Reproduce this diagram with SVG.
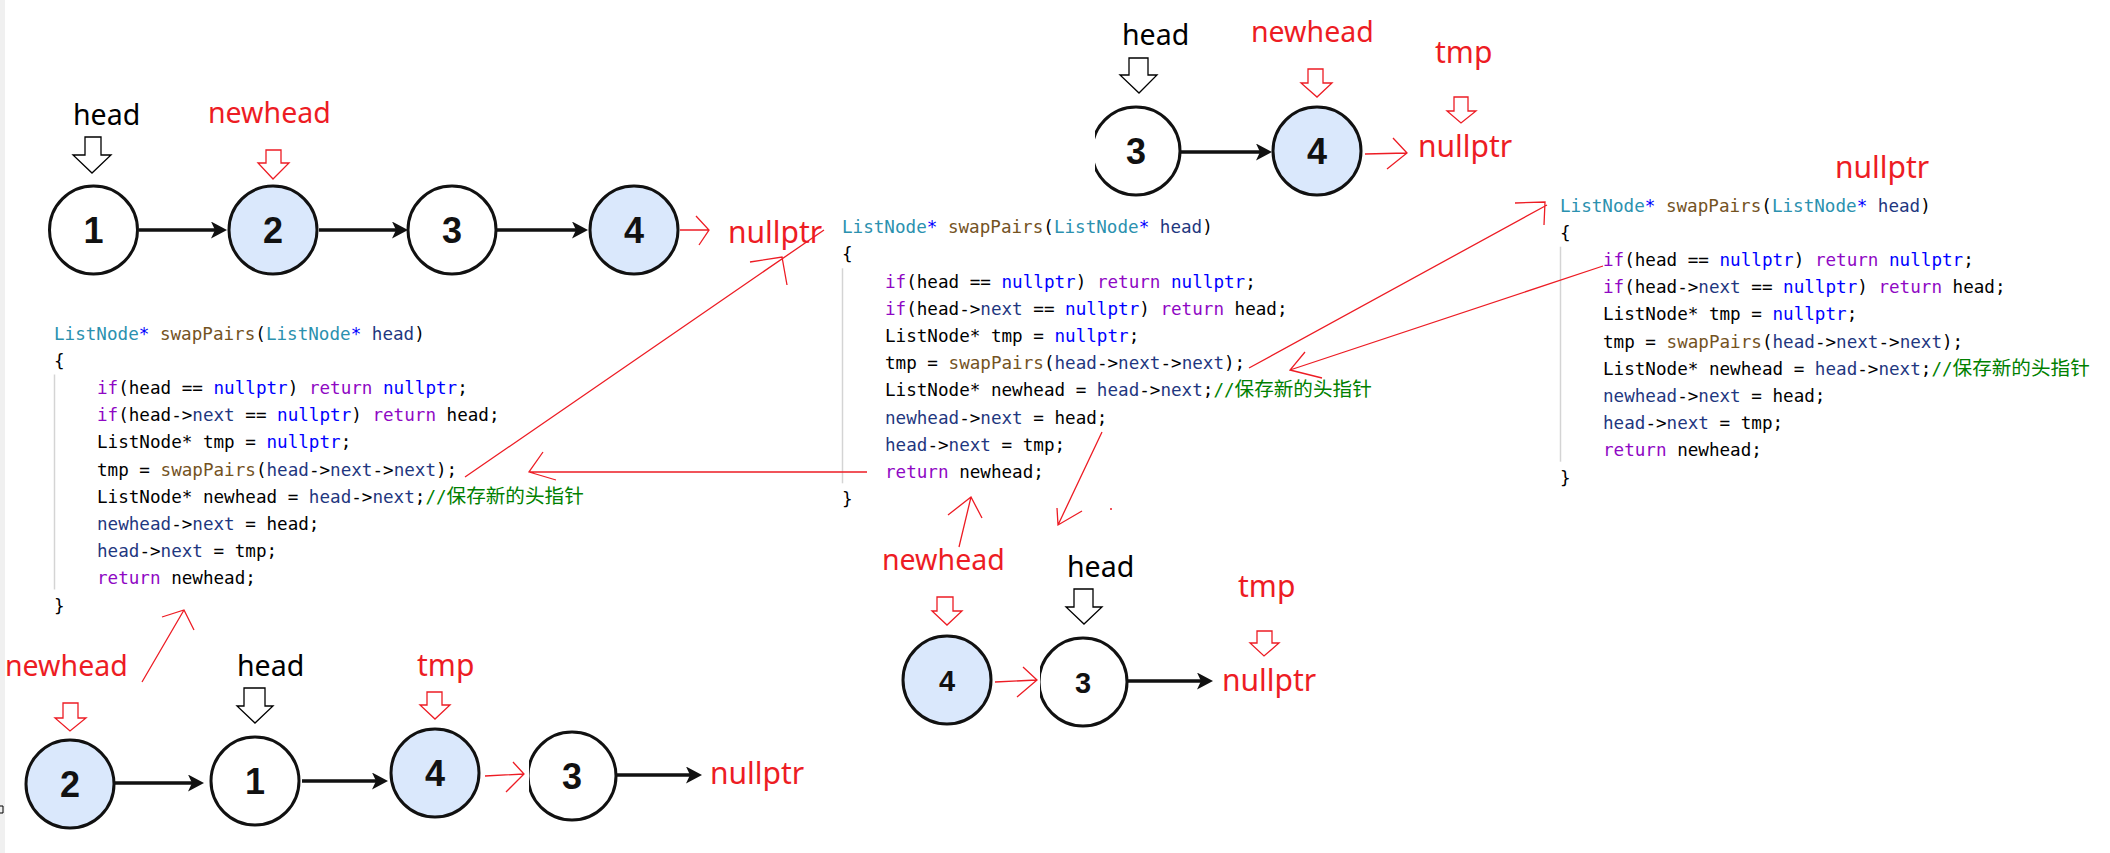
<svg xmlns="http://www.w3.org/2000/svg" width="2110" height="853" viewBox="0 0 2110 853">
<style>
.lb{font-family:"Noto Sans","Liberation Sans",sans-serif;font-size:28.5px;fill:#000}
.lb2{font-family:"Noto Sans","Liberation Sans",sans-serif;font-size:30px;fill:#ED1C24}
.red{fill:#ED1C24}
.num{font-family:"Liberation Sans",Arial,sans-serif;font-weight:bold;font-size:36px;fill:#111;text-anchor:middle}
.num2{font-size:29px}
.nw{fill:#fff;stroke:#111;stroke-width:3}
.nb{fill:#dae8fc;stroke:#111;stroke-width:3}
.hb{fill:#fff;stroke:#000;stroke-width:1.3}
.hr{fill:#fff;stroke:#ED1C24;stroke-width:1.3}
.rl{fill:none;stroke:#ED1C24;stroke-width:1.3}
.bk{fill:none;stroke:#111;stroke-width:3.5;marker-end:url(#ah)}
.code{font-family:"DejaVu Sans Mono","Liberation Mono",monospace;font-size:17.6px;fill:#000}
.ty{fill:#2B91AF}.kw{fill:#8F08C4}.bl{fill:#0000FF}.fn{fill:#74531F}.pr{fill:#1F377F}.cm{fill:#008000}
.cj{font-family:"Noto Sans CJK SC","Noto Sans CJK JP",sans-serif;font-size:19.6px}
.guide{stroke:#d4d4d4;stroke-width:1.5}
</style>
<defs>
<marker id="ah" viewBox="0 0 16 17" refX="8" refY="8.5" markerWidth="16" markerHeight="17" markerUnits="userSpaceOnUse" orient="auto">
<path d="M0,0 L16,8.5 L0,17 L4,8.5 z" fill="#111"/>
</marker>
<clipPath id="c1"><rect x="1095" y="90" width="120" height="120"/></clipPath>
<clipPath id="c2"><rect x="1040" y="620" width="120" height="120"/></clipPath>
<clipPath id="c3"><rect x="529" y="715" width="120" height="120"/></clipPath>
</defs>
<rect x="0" y="0" width="2110" height="853" fill="#fff"/>
<rect x="0" y="0" width="5" height="853" fill="#f0f0f0"/>
<path d="M0,806 L3,806 L3,813 L0,813" fill="none" stroke="#000" stroke-width="1"/>

<!-- Top-left list -->
<g id="tl-labels">
<text class="lb" x="73" y="125">head</text>
<text class="lb red" x="208" y="123">newhead</text>
<text class="lb2" x="728" y="243">nullptr</text>
<polygon class="hb" points="85,137 101,137 101,155 111,155 92,173 73,155 85,155"/>
<polygon class="hr" points="266,150 281,150 281,163 289,163 273,179 258,163 266,163"/>
</g>
<g id="tl-n1"><circle class="nw" cx="93.5" cy="230" r="44"/><text class="num" x="93.5" y="243">1</text></g>
<g id="tl-n2"><circle class="nb" cx="273" cy="230" r="44"/><text class="num" x="273" y="243">2</text></g>
<g id="tl-n3"><circle class="nw" cx="452" cy="230" r="44"/><text class="num" x="452" y="243">3</text></g>
<g id="tl-n4"><circle class="nb" cx="634" cy="230" r="44"/><text class="num" x="634" y="243">4</text></g>

<!-- Top-center list -->
<g id="tc-labels">
<text class="lb" x="1122" y="45">head</text>
<text class="lb red" x="1251" y="42">newhead</text>
<text class="lb2" x="1435" y="63">tmp</text>
<text class="lb2" x="1418" y="157">nullptr</text>
<polygon class="hb" points="1129,58 1148,58 1148,75 1157,75 1139,93 1120,75 1129,75"/>
<polygon class="hr" points="1308,69 1323,69 1323,83 1332,83 1317,97 1301,83 1308,83"/>
<polygon class="hr" points="1454,97 1468,97 1468,111 1476,111 1461,123 1447,111 1454,111"/>
</g>
<g id="tc-n3"><circle class="nw" cx="1136" cy="151" r="44" clip-path="url(#c1)"/><text class="num" x="1136" y="164">3</text></g>
<g id="tc-n4"><circle class="nb" cx="1317" cy="151" r="44"/><text class="num" x="1317" y="164">4</text></g>

<!-- Right nullptr label -->
<g id="r-label"><text class="lb2" x="1835" y="178">nullptr</text></g>

<!-- Bottom-center list -->
<g id="bc-labels">
<text class="lb red" x="882" y="570">newhead</text>
<text class="lb" x="1067" y="577">head</text>
<text class="lb2" x="1238" y="597">tmp</text>
<text class="lb2" x="1222" y="691">nullptr</text>
<polygon class="hr" points="937,597 953,597 953,611 962,611 947,625 932,611 937,611"/>
<polygon class="hb" points="1074,589 1093,589 1093,607 1102,607 1084,624 1066,607 1074,607"/>
<polygon class="hr" points="1257,631 1272,631 1272,643 1279,643 1264,656 1250,643 1257,643"/>
</g>
<g id="bc-n4"><circle class="nb" cx="947" cy="680" r="44"/><text class="num num2" x="947" y="691">4</text></g>
<g id="bc-n3"><circle class="nw" cx="1083" cy="682" r="44" clip-path="url(#c2)"/><text class="num num2" x="1083" y="693">3</text></g>

<!-- Bottom-left list -->
<g id="bl-labels">
<text class="lb red" x="5" y="676">newhead</text>
<text class="lb" x="237" y="676">head</text>
<text class="lb2" x="417" y="676">tmp</text>
<text class="lb2" x="710" y="784">nullptr</text>
<polygon class="hr" points="63,703 78,703 78,718 86,718 70,731 55,718 63,718"/>
<polygon class="hb" points="244,688 265,688 265,706 273,706 255,723 237,706 244,706"/>
<polygon class="hr" points="427,692 442,692 442,705 450,705 435,719 420,705 427,705"/>
</g>
<g id="bl-n2"><circle class="nb" cx="70" cy="784" r="44"/><text class="num" x="70" y="797">2</text></g>
<g id="bl-n1"><circle class="nw" cx="255" cy="781" r="44"/><text class="num" x="255" y="794">1</text></g>
<g id="bl-n4"><circle class="nb" cx="435" cy="773" r="44"/><text class="num" x="435" y="786">4</text></g>
<g id="bl-n3"><circle class="nw" cx="572" cy="776" r="44" clip-path="url(#c3)"/><text class="num" x="572" y="789">3</text></g>

<!-- Code blocks -->
<g id="code-left" class="code" transform="translate(54,339.5)">
<line class="guide" x1="0.5" y1="35" x2="0.5" y2="250"/>
<text xml:space="preserve" x="0" y="0"><tspan class="ty">ListNode</tspan><tspan class="bl">*</tspan> <tspan class="fn">swapPairs</tspan>(<tspan class="ty">ListNode</tspan><tspan class="bl">*</tspan> <tspan class="pr">head</tspan>)</text>
<text x="0" y="27.2">{</text>
<text xml:space="preserve" x="43" y="54.4"><tspan class="kw">if</tspan>(head == <tspan class="bl">nullptr</tspan>) <tspan class="kw">return</tspan> <tspan class="bl">nullptr</tspan>;</text>
<text xml:space="preserve" x="43" y="81.6"><tspan class="kw">if</tspan>(head-&gt;<tspan class="pr">next</tspan> == <tspan class="bl">nullptr</tspan>) <tspan class="kw">return</tspan> head;</text>
<text xml:space="preserve" x="43" y="108.8">ListNode* tmp = <tspan class="bl">nullptr</tspan>;</text>
<text xml:space="preserve" x="43" y="136">tmp = <tspan class="fn">swapPairs</tspan>(<tspan class="pr">head</tspan>-&gt;<tspan class="pr">next</tspan>-&gt;<tspan class="pr">next</tspan>);</text>
<text xml:space="preserve" x="43" y="163.2">ListNode* newhead = <tspan class="pr">head</tspan>-&gt;<tspan class="pr">next</tspan>;<tspan class="cm">//</tspan><tspan class="cm cj">保存新的头指针</tspan></text>
<text xml:space="preserve" x="43" y="190.4"><tspan class="pr">newhead</tspan>-&gt;<tspan class="pr">next</tspan> = head;</text>
<text xml:space="preserve" x="43" y="217.6"><tspan class="pr">head</tspan>-&gt;<tspan class="pr">next</tspan> = tmp;</text>
<text xml:space="preserve" x="43" y="244.8"><tspan class="kw">return</tspan> newhead;</text>
<text x="0" y="272">}</text>
</g>
<g id="code-middle" class="code" transform="translate(842,233.3)">
<line class="guide" x1="0.5" y1="35" x2="0.5" y2="250"/>
<text xml:space="preserve" x="0" y="0"><tspan class="ty">ListNode</tspan><tspan class="bl">*</tspan> <tspan class="fn">swapPairs</tspan>(<tspan class="ty">ListNode</tspan><tspan class="bl">*</tspan> <tspan class="pr">head</tspan>)</text>
<text x="0" y="27.2">{</text>
<text xml:space="preserve" x="43" y="54.4"><tspan class="kw">if</tspan>(head == <tspan class="bl">nullptr</tspan>) <tspan class="kw">return</tspan> <tspan class="bl">nullptr</tspan>;</text>
<text xml:space="preserve" x="43" y="81.6"><tspan class="kw">if</tspan>(head-&gt;<tspan class="pr">next</tspan> == <tspan class="bl">nullptr</tspan>) <tspan class="kw">return</tspan> head;</text>
<text xml:space="preserve" x="43" y="108.8">ListNode* tmp = <tspan class="bl">nullptr</tspan>;</text>
<text xml:space="preserve" x="43" y="136">tmp = <tspan class="fn">swapPairs</tspan>(<tspan class="pr">head</tspan>-&gt;<tspan class="pr">next</tspan>-&gt;<tspan class="pr">next</tspan>);</text>
<text xml:space="preserve" x="43" y="163.2">ListNode* newhead = <tspan class="pr">head</tspan>-&gt;<tspan class="pr">next</tspan>;<tspan class="cm">//</tspan><tspan class="cm cj">保存新的头指针</tspan></text>
<text xml:space="preserve" x="43" y="190.4"><tspan class="pr">newhead</tspan>-&gt;<tspan class="pr">next</tspan> = head;</text>
<text xml:space="preserve" x="43" y="217.6"><tspan class="pr">head</tspan>-&gt;<tspan class="pr">next</tspan> = tmp;</text>
<text xml:space="preserve" x="43" y="244.8"><tspan class="kw">return</tspan> newhead;</text>
<text x="0" y="272">}</text>
</g>
<g id="code-right" class="code" transform="translate(1560,211.7)">
<line class="guide" x1="0.5" y1="35" x2="0.5" y2="250"/>
<text xml:space="preserve" x="0" y="0"><tspan class="ty">ListNode</tspan><tspan class="bl">*</tspan> <tspan class="fn">swapPairs</tspan>(<tspan class="ty">ListNode</tspan><tspan class="bl">*</tspan> <tspan class="pr">head</tspan>)</text>
<text x="0" y="27.2">{</text>
<text xml:space="preserve" x="43" y="54.4"><tspan class="kw">if</tspan>(head == <tspan class="bl">nullptr</tspan>) <tspan class="kw">return</tspan> <tspan class="bl">nullptr</tspan>;</text>
<text xml:space="preserve" x="43" y="81.6"><tspan class="kw">if</tspan>(head-&gt;<tspan class="pr">next</tspan> == <tspan class="bl">nullptr</tspan>) <tspan class="kw">return</tspan> head;</text>
<text xml:space="preserve" x="43" y="108.8">ListNode* tmp = <tspan class="bl">nullptr</tspan>;</text>
<text xml:space="preserve" x="43" y="136">tmp = <tspan class="fn">swapPairs</tspan>(<tspan class="pr">head</tspan>-&gt;<tspan class="pr">next</tspan>-&gt;<tspan class="pr">next</tspan>);</text>
<text xml:space="preserve" x="43" y="163.2">ListNode* newhead = <tspan class="pr">head</tspan>-&gt;<tspan class="pr">next</tspan>;<tspan class="cm">//</tspan><tspan class="cm cj">保存新的头指针</tspan></text>
<text xml:space="preserve" x="43" y="190.4"><tspan class="pr">newhead</tspan>-&gt;<tspan class="pr">next</tspan> = head;</text>
<text xml:space="preserve" x="43" y="217.6"><tspan class="pr">head</tspan>-&gt;<tspan class="pr">next</tspan> = tmp;</text>
<text xml:space="preserve" x="43" y="244.8"><tspan class="kw">return</tspan> newhead;</text>
<text x="0" y="272">}</text>
</g>

<!-- Connectors -->
<g id="connectors">
<path class="bk" d="M139,230 L219,230"/>
<path class="bk" d="M319,230 L400,230"/>
<path class="bk" d="M497,230 L580,230"/>
<path class="bk" d="M1181,152 L1264,152"/>
<path class="bk" d="M1127,681 L1205,681"/>
<path class="bk" d="M115,783 L196,783"/>
<path class="bk" d="M302,781 L380,781"/>
<path class="bk" d="M616,775 L694,775"/>
<path class="rl" d="M680,230 L709,230 M696,216 L709,230 L699,245"/>
<path class="rl" d="M465,477 L824,230 M750,262 L782,257 L787,285"/>
<path class="rl" d="M867,472 L529,472 M543,452 L529,472 L556,480"/>
<path class="rl" d="M142,682 L184,610 M162,617 L184,610 L194,630"/>
<path class="rl" d="M1102,432 L1058,525 M1057,508 L1058,525 L1082,511"/>
<path class="rl" d="M959,547 L971,497 M948,515 L971,497 L982,518"/>
<path class="rl" d="M995,682 L1037,680 M1023,667 L1037,680 L1017,697"/>
<path class="rl" d="M1249,368 L1547,205 M1515,203 L1545,202 L1544,225"/>
<path class="rl" d="M1603,266 L1290,370 M1305,352 L1290,370 L1322,378"/>
<path class="rl" d="M1365,154 L1407,153 M1393,138 L1407,153 L1387,169"/>
<path class="rl" d="M485,776 L524,774 M513,762 L524,774 L506,792"/>
<circle cx="1111" cy="509" r="1" fill="#ED1C24"/>
</g>
</svg>
